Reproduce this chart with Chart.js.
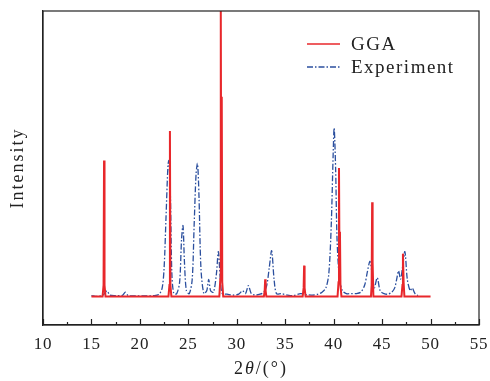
<!DOCTYPE html>
<html>
<head>
<meta charset="utf-8">
<script src="https://cdn.jsdelivr.net/npm/chart.js@4.4.1/dist/chart.umd.min.js"></script>
<style>
  html, body { margin: 0; padding: 0; background: #fff; }
  #wrap { width: 490px; height: 381px; position: relative; }
</style>
</head>
<body>
<div id="wrap"><canvas id="xrd" width="490" height="381"></canvas></div>
<script>
// ——— DATA ———
const ggaX = [15.0, 16.15, 16.25, 16.3, 16.35, 16.45, 22.95, 23.05, 23.1, 23.15, 23.25,
  28.2, 28.3, 28.35, 28.4, 28.45, 28.5, 28.6, 32.8, 32.88, 32.93, 32.98, 33.05,
  36.8, 36.9, 36.95, 37.0, 37.1, 40.4, 40.5, 40.55, 40.6, 40.65, 40.7, 40.8,
  43.85, 43.92, 43.97, 44.02, 44.1, 47.0, 47.1, 47.15, 47.22, 47.3, 50.0];
const ggaY = [0, 0, 4, 47.6, 4, 0, 0, 4, 58, 4, 0,
  0, 6, 100, 20, 70, 5, 0, 0, 2, 6, 2, 0,
  0, 3, 10.8, 3, 0, 0, 5, 45, 12, 22.7, 4, 0,
  0, 4, 33, 12, 0, 0, 4, 15, 5, 0, 0];

const expX = [15.0, 15.6, 16.2, 16.6, 16.9, 17.5, 18.2, 18.5, 18.8, 19.5, 20.5, 21.5,
  22.0, 22.3, 22.5, 22.7, 22.9, 23.0, 23.15, 23.3, 23.5, 23.8, 24.1, 24.3, 24.45, 24.6, 24.8,
  25.1, 25.4, 25.6, 25.8, 25.95, 26.1, 26.3, 26.6, 26.9, 27.1, 27.3, 27.6, 27.9, 28.1, 28.3, 28.5,
  29.0, 29.6, 30.2, 30.6, 30.9, 31.2, 31.5, 31.9, 32.4, 32.8, 33.1, 33.35, 33.6, 33.85, 34.1,
  34.6, 35.2, 35.8, 36.6, 37.2, 37.8, 38.4, 38.8, 39.2, 39.5, 39.75, 39.95, 40.05, 40.2, 40.35,
  40.6, 40.9, 41.3, 41.8, 42.3, 42.8, 43.2, 43.5, 43.75, 44.0, 44.2, 44.5, 44.8, 45.2, 45.6,
  46.0, 46.3, 46.5, 46.7, 46.9, 47.1, 47.35, 47.6, 47.9, 48.1, 48.4, 48.7];
const expY = [0.3, 0, 0.5, 2, 0.5, 0.3, 0.4, 1.5, 0.3, 0.2, 0.2, 0.3,
  0.8, 3, 10, 28, 46, 47.6, 35, 8, 1, 1, 5, 20, 24.8, 12, 2,
  1, 6, 25, 43, 46.5, 35, 10, 1, 2, 6, 2, 1.5, 8, 15.7, 6, 1,
  0.8, 0.5, 0.8, 2, 1, 3.8, 1, 0.5, 0.8, 1.5, 4, 10, 16, 6, 1,
  1, 0.5, 0.3, 1, 0.6, 0.5, 0.8, 1.5, 3, 8, 25, 50, 59, 45, 20,
  6, 2, 1, 1, 1, 1.5, 4, 9, 12.3, 7, 3, 6.6, 2, 1, 0.8,
  1.5, 3, 6, 9, 6, 10, 15.7, 6, 2, 3, 1, 0.3];

const xTicks = [10, 15, 20, 25, 30, 35, 40, 45, 50, 55];
const seriesNames = ['GGA', 'Experiment'];
const yTitle = 'Intensity';

const RED = '#e8272b';
const BLUE = '#2b4f9e';
const INK = '#222';
const SERIF = '"Liberation Serif", "DejaVu Serif", serif';
const DASHDOT = [6, 2, 1.5, 2];

// ——— FRAME, INWARD TICKS, TITLES, LEGEND ———
const framePlugin = {
  id: 'frame',
  beforeDraw(chart) {
    chart.ctx.letterSpacing = '0.8px'; // wider, CM-like tick digits
  },
  afterDraw(chart) {
    const { ctx, chartArea: a, scales: { x } } = chart;
    ctx.save();
    ctx.strokeStyle = INK;
    ctx.lineWidth = 1.2;
    ctx.strokeRect(a.left, a.top, a.right - a.left, a.bottom - a.top);
    for (let v = 10; v <= 55; v += 2.5) {
      const px = Math.round(x.getPixelForValue(v)) + 0.5;
      const len = v % 5 === 0 ? 6 : 3;
      ctx.beginPath();
      ctx.moveTo(px, a.bottom);
      ctx.lineTo(px, a.bottom - len);
      ctx.stroke();
    }

    ctx.fillStyle = INK;
    ctx.letterSpacing = '2px';
    ctx.textBaseline = 'alphabetic';

    // x title: 2θ/(°) with italic theta
    const parts = [['2', ''], ['θ', 'italic '], ['/(°)', '']];
    let w = 0;
    parts.forEach(p => { ctx.font = p[1] + '18px ' + SERIF; w += ctx.measureText(p[0]).width; });
    let tx = (a.left + a.right) / 2 - w / 2;
    parts.forEach(p => {
      ctx.font = p[1] + '18px ' + SERIF;
      ctx.textAlign = 'left';
      ctx.fillText(p[0], tx, 374);
      tx += ctx.measureText(p[0]).width;
    });

    // y title
    ctx.save();
    ctx.translate(23, 168);
    ctx.rotate(-Math.PI / 2);
    ctx.font = '18px ' + SERIF;
    ctx.textAlign = 'center';
    ctx.fillText(yTitle, 0, 0);
    ctx.restore();

    // legend
    const lx = 307, ly = [44, 67];
    ctx.font = '19px ' + SERIF;
    ctx.letterSpacing = '1.5px';
    ctx.textAlign = 'left';
    ctx.textBaseline = 'middle';
    ctx.lineWidth = 1.6;
    ctx.strokeStyle = RED;
    ctx.setLineDash([]);
    ctx.beginPath(); ctx.moveTo(lx, ly[0]); ctx.lineTo(lx + 33, ly[0]); ctx.stroke();
    ctx.strokeStyle = BLUE;
    ctx.lineWidth = 1.3;
    ctx.setLineDash(DASHDOT);
    ctx.beginPath(); ctx.moveTo(lx, ly[1]); ctx.lineTo(lx + 33, ly[1]); ctx.stroke();
    ctx.setLineDash([]);
    ctx.fillText(seriesNames[0], 351, ly[0] + 1);
    ctx.fillText(seriesNames[1], 351, ly[1] + 1);
    ctx.restore();
    ctx.letterSpacing = '0px';
  }
};

new Chart(document.getElementById('xrd'), {
  type: 'line',
  data: {
    datasets: [
      {
        label: seriesNames[0],
        data: ggaX.map((v, i) => ({ x: v, y: ggaY[i] })),
        borderColor: RED,
        borderWidth: 2,
        pointRadius: 0,
        tension: 0
      },
      {
        label: seriesNames[1],
        data: expX.map((v, i) => ({ x: v, y: expY[i] })),
        borderColor: BLUE,
        borderWidth: 1.3,
        borderDash: DASHDOT,
        pointRadius: 0,
        tension: 0.3
      }
    ]
  },
  options: {
    responsive: false,
    animation: false,
    layout: { padding: { left: 0, right: 11, top: 11, bottom: 0 } },
    plugins: { legend: { display: false }, tooltip: { enabled: false } },
    scales: {
      x: {
        type: 'linear',
        min: 10, max: 55,
        afterBuildTicks: s => { s.ticks = xTicks.map(v => ({ value: v })); },
        afterFit: s => { s.height = 56; s.paddingLeft = 0; s.paddingRight = 0; },
        grid: { display: false, drawTicks: false },
        border: { display: true, color: INK, width: 1.2 },
        ticks: { color: INK, padding: 9, maxRotation: 0, font: { family: SERIF, size: 17 } },
        title: { display: false }
      },
      y: {
        min: -10, max: 100,
        afterFit: s => { s.width = 43; },
        grid: { display: false, drawTicks: false },
        border: { display: true, color: INK, width: 1.2 },
        ticks: { display: false },
        title: { display: false }
      }
    }
  },
  plugins: [framePlugin]
});
</script>
</body>
</html>
